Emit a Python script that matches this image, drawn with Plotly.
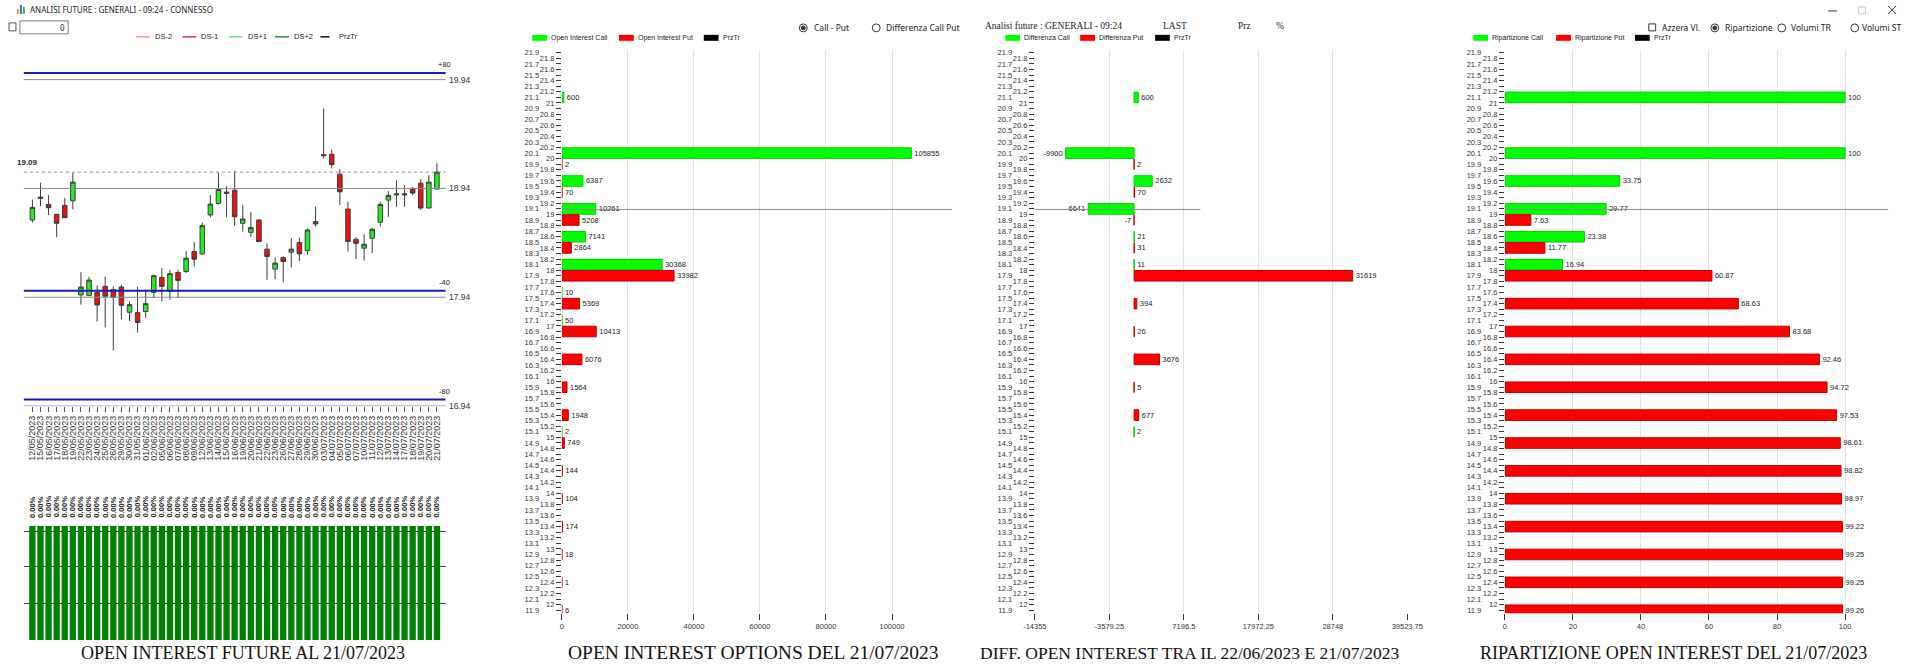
import plotly.graph_objects as go

W, H = 1920, 666
SANS = "Liberation Sans"
SERIF = "Liberation Serif"
UI = "Noto Sans"


def fx(p):
    return p / W


def fy(p):
    return 1 - p / H


# ---------------- data : future (panel 1) ----------------
dates = ["12/05/2023", "15/05/2023", "16/05/2023", "17/05/2023", "18/05/2023", "19/05/2023",
         "22/05/2023", "23/05/2023", "24/05/2023", "25/05/2023", "26/05/2023", "29/05/2023",
         "30/05/2023", "31/05/2023", "01/06/2023", "02/06/2023", "05/06/2023", "06/06/2023",
         "07/06/2023", "08/06/2023", "09/06/2023", "12/06/2023", "13/06/2023", "14/06/2023",
         "15/06/2023", "16/06/2023", "19/06/2023", "20/06/2023", "21/06/2023", "22/06/2023",
         "23/06/2023", "26/06/2023", "27/06/2023", "28/06/2023", "29/06/2023", "30/06/2023",
         "03/07/2023", "04/07/2023", "05/07/2023", "06/07/2023", "07/07/2023", "10/07/2023",
         "11/07/2023", "12/07/2023", "13/07/2023", "14/07/2023", "17/07/2023", "18/07/2023",
         "19/07/2023", "20/07/2023", "21/07/2023"]
opens = [18.650, 18.848, 18.793, 18.702, 18.784, 18.827, 17.961, 17.955, 17.985, 18.040,
         18.010, 18.034, 17.802, 17.799, 17.808, 17.985, 18.122, 17.994, 18.168, 18.177,
         18.360, 18.339, 18.696, 18.802, 18.894, 18.924, 18.620, 18.537, 18.650, 18.382,
         18.199, 18.305, 18.354, 18.443, 18.369, 18.635, 19.240, 19.254, 19.071, 18.751,
         18.473, 18.391, 18.482, 18.629, 18.833, 18.880, 18.880, 18.934, 18.988, 18.760,
         18.934]
highs = [18.839, 18.992, 18.879, 18.705, 18.854, 19.083, 18.171, 18.128, 18.049, 18.131,
         18.040, 18.055, 17.903, 18.037, 18.010, 18.147, 18.208, 18.193, 18.193, 18.366,
         18.446, 18.626, 18.879, 19.083, 18.961, 19.101, 18.787, 18.726, 18.656, 18.436,
         18.305, 18.315, 18.482, 18.488, 18.574, 18.772, 19.675, 19.297, 19.117, 18.818,
         18.491, 18.519, 18.574, 18.818, 18.915, 19.016, 18.970, 18.955, 19.025, 19.062,
         19.172]
lows = [18.626, 18.778, 18.696, 18.491, 18.671, 18.748, 17.872, 17.955, 17.717, 17.662,
        17.451, 17.735, 17.720, 17.616, 17.750, 17.933, 17.903, 17.918, 17.933, 18.162,
        18.223, 18.327, 18.674, 18.793, 18.674, 18.595, 18.543, 18.497, 18.452, 18.101,
        18.107, 18.077, 18.214, 18.275, 18.330, 18.589, 19.214, 19.123, 18.787, 18.360,
        18.290, 18.278, 18.345, 18.589, 18.680, 18.772, 18.772, 18.879, 18.741, 18.760,
        18.934]
closes = [18.766, 18.860, 18.763, 18.620, 18.671, 18.998, 18.034, 18.098, 17.869, 17.949,
          17.939, 17.866, 17.872, 17.708, 17.881, 18.138, 18.040, 18.156, 18.095, 18.299,
          18.290, 18.598, 18.796, 18.930, 18.906, 18.680, 18.659, 18.580, 18.452, 18.315,
          18.254, 18.269, 18.382, 18.339, 18.558, 18.613, 19.250, 19.159, 18.909, 18.452,
          18.436, 18.427, 18.565, 18.793, 18.876, 18.890, 18.890, 18.897, 18.760, 18.998,
          19.090]
# open interest future bars (all drawn as full bars, labelled 0.00%)
fut_bar_fill = [100, 100, 100, 100, 100, 100, 100, 100, 100, 100, 100, 100, 100, 100, 100, 100, 100,
                100, 100, 100, 100, 100, 100, 100, 100, 100, 100, 100, 100, 100, 100, 100, 100, 100,
                100, 100, 100, 100, 100, 100, 100, 100, 100, 100, 100, 100, 100, 100, 100, 100, 100]
fut_oi_pct = [0.00, 0.00, 0.00, 0.00, 0.00, 0.00, 0.00, 0.00, 0.00, 0.00, 0.00, 0.00, 0.00, 0.00,
              0.00, 0.00, 0.00, 0.00, 0.00, 0.00, 0.00, 0.00, 0.00, 0.00, 0.00, 0.00, 0.00, 0.00,
              0.00, 0.00, 0.00, 0.00, 0.00, 0.00, 0.00, 0.00, 0.00, 0.00, 0.00, 0.00, 0.00, 0.00,
              0.00, 0.00, 0.00, 0.00, 0.00, 0.00, 0.00, 0.00, 0.00]

blue_levels = [20.0, 18.0, 17.0]
blue_labels = ["+80", "-40", "-80"]
gray_levels = [19.94, 18.94, 17.94, 16.94]
last_price = 19.09

# ---------------- data : options (panels 2-4) ----------------
strikes = [21, 20, 19.5, 19, 18.5, 18, 17.5, 17, 16.5, 16, 15.5, 15, 14.5, 14, 13.5, 13, 12.5, 12]
oi_call = [600, 105855, 6387, 10261, 7141, 30368, 10, 50, 0, 0, 0, 2, 0, 0, 0, 0, 0, 0]
oi_put = [0, 2, 70, 5208, 2864, 33982, 5369, 10413, 6076, 1564, 1948, 749, 144, 104, 174, 18, 1, 6]
diff_call = [600, -9900, 2632, -6641, 21, 11, 0, 0, 0, 0, 0, 2, 0, 0, 0, 0, 0, 0]
diff_put = [0, 2, 70, -7, 31, 31619, 394, 26, 3676, 5, 677, 0, 0, 0, 0, 0, 0, 0]
rip_call = [100, 100, 33.75, 29.77, 23.38, 16.94, 0, 0, 0, 0, 0, 0, 0, 0, 0, 0, 0, 0]
rip_put = [0, 0, 0, 7.63, 11.77, 60.87, 68.63, 83.68, 92.46, 94.72, 97.53, 98.61, 98.82, 98.97,
           99.22, 99.25, 99.25, 99.26]

oi_ticks = [0, 20000, 40000, 60000, 80000, 100000]
diff_ticks = [-14355, -3579.25, 7196.5, 17972.25, 28748, 39523.75]
diff_tick_text = ["-14355", "-3579.25", "7196.5", "17972.25", "28748", "39523.75"]
rip_ticks = [0, 20, 40, 60, 80, 100]

strike_ticks = [round(11.9 + 0.1 * k, 1) for k in range(101)]
inner_text = [f"{v:g}" if k % 2 == 1 else "" for k, v in enumerate(strike_ticks)]
outer_vals = [v for k, v in enumerate(strike_ticks) if k % 2 == 0]
outer_text = [f"{v:g}" for v in outer_vals]
Y_RANGE = [11.846, 21.954]

GREEN = "#00ff00"
RED = "#ff0000"

fig = go.Figure()

# ---- panel 1: candles ----
idx = list(range(len(dates)))
fig.add_trace(go.Candlestick(
    x=idx, open=opens, high=highs, low=lows, close=closes,
    xaxis="x", yaxis="y", whiskerwidth=0,
    increasing=dict(fillcolor="#22ee22", line=dict(color="#3c3c3c", width=1)),
    decreasing=dict(fillcolor="#ee1111", line=dict(color="#3c3c3c", width=1)),
    showlegend=False, hoverinfo="skip"))

fig.add_trace(go.Bar(x=idx, y=fut_bar_fill, xaxis="x2", yaxis="y2", width=0.78,
                     marker=dict(color="#008000", line=dict(width=0)),
                     showlegend=False, hoverinfo="skip"))


def hbar(vals, offset, color, lcolor, xa, ya):
    ys = [s + offset for s, v in zip(strikes, vals) if v != 0]
    xs = [v for v in vals if v != 0]
    return go.Bar(orientation="h", x=xs, y=ys, width=0.19, xaxis=xa, yaxis=ya,
                  marker=dict(color=color, line=dict(color=lcolor, width=1)),
                  text=[f"{v:g}" for v in xs], textposition="outside",
                  textfont=dict(size=7.5, family=SANS, color="#222"),
                  constraintext="none", cliponaxis=False,
                  showlegend=False, hoverinfo="skip")


fig.add_trace(hbar(oi_call, 0.1, GREEN, "#00d000", "x3", "y3"))
fig.add_trace(hbar(oi_put, -0.1, RED, "#c00000", "x3", "y3"))
fig.add_trace(hbar(diff_call, 0.1, GREEN, "#00d000", "x5", "y5"))
fig.add_trace(hbar(diff_put, -0.1, RED, "#c00000", "x5", "y5"))
fig.add_trace(hbar(rip_call, 0.1, GREEN, "#00d000", "x7", "y7"))
fig.add_trace(hbar(rip_put, -0.1, RED, "#c00000", "x7", "y7"))

# dummy traces so the outer label axes are drawn
for xa, ya in (("x3", "y4"), ("x5", "y6"), ("x7", "y8")):
    fig.add_trace(go.Scatter(x=[0], y=[20], xaxis=xa, yaxis=ya, mode="markers",
                             marker=dict(opacity=0), showlegend=False, hoverinfo="skip"))

tickfont = dict(size=7.5, family=SANS, color="#333")


def strike_axes(x0, x1, outer_pos, xrange, xticks, xtext):
    xa = dict(domain=[fx(x0), fx(x1)], range=xrange, tickvals=xticks, ticktext=xtext,
              ticks="outside", ticklen=6, tickcolor="#333", tickfont=tickfont,
              showgrid=True, gridcolor="#e2e2e2", gridwidth=1, zeroline=False, showline=False)
    ya = dict(domain=[fy(615), fy(49)], range=Y_RANGE, tickvals=strike_ticks, ticktext=inner_text,
              ticks="outside", ticklen=5, tickcolor="#333", tickfont=tickfont,
              showgrid=False, zeroline=False, showline=False)
    ya2 = dict(range=Y_RANGE, tickvals=outer_vals, ticktext=outer_text, ticks="",
               tickfont=tickfont, showgrid=False, zeroline=False, showline=False,
               anchor="free", position=fx(outer_pos), side="left")
    return xa, ya, ya2


xa3, ya3, ya4 = strike_axes(558, 954, 535, [0, 118200], oi_ticks, [str(v) for v in oi_ticks])
xa5, ya5, ya6 = strike_axes(1038, 1416, 1015, [-14355, 39530], diff_ticks, diff_tick_text)
xa7, ya7, ya8 = strike_axes(1515, 1904, 1491, [0, 112.7], rip_ticks, [str(v) for v in rip_ticks])
ya3.update(anchor="x3"); xa3.update(anchor="y3"); ya4.update(overlaying="y3")
ya5.update(anchor="x5"); xa5.update(anchor="y5"); ya6.update(overlaying="y5")
ya7.update(anchor="x7"); xa7.update(anchor="y7"); ya8.update(overlaying="y7")

shapes = []
annotations = []


def line(x0, y0, x1, y1, color, width=1, dash="solid"):
    shapes.append(dict(type="line", xref="paper", yref="paper", x0=fx(x0), y0=fy(y0),
                       x1=fx(x1), y1=fy(y1), line=dict(color=color, width=width, dash=dash)))


def rect(x0, y0, x1, y1, fill, lc=None, lw=1):
    shapes.append(dict(type="rect", xref="paper", yref="paper", x0=fx(x0), y0=fy(y0),
                       x1=fx(x1), y1=fy(y1), fillcolor=fill,
                       line=dict(color=lc if lc else fill, width=lw if lc else 0)))


def circle(cx, cy, r, fill, lc):
    shapes.append(dict(type="circle", xref="paper", yref="paper", x0=fx(cx - r), y0=fy(cy + r),
                       x1=fx(cx + r), y1=fy(cy - r), fillcolor=fill, line=dict(color=lc, width=1)))


def txt(x, y, s, size=7.5, anchor="left", family=SANS, color="#222", yanchor="middle", **kw):
    annotations.append(dict(x=fx(x), y=fy(y), xref="paper", yref="paper", text=s, showarrow=False,
                            xanchor=anchor, yanchor=yanchor, borderpad=0,
                            font=dict(size=size, family=family, color=color), **kw))


# ---- panel 1 level lines ----
for lv in blue_levels:
    shapes.append(dict(type="line", xref="x domain", yref="y", x0=0, x1=1, y0=lv, y1=lv,
                       line=dict(color="#1b1bb5", width=2)))
for lv in gray_levels:
    shapes.append(dict(type="line", xref="x domain", yref="y", x0=0, x1=1, y0=lv, y1=lv,
                       line=dict(color="#8c8c8c", width=1)))
shapes.append(dict(type="line", xref="x domain", yref="y", x0=0, x1=1, y0=last_price, y1=last_price,
                   line=dict(color="#8c8c8c", width=1, dash="dot")))
for lv, lab in zip(blue_levels, blue_labels):
    annotations.append(dict(x=fx(439), y=lv, xref="paper", yref="y", text=lab, showarrow=False,
                            xanchor="center", yanchor="bottom", yshift=2,
                            font=dict(size=7.5, family=SANS, color="#222")))
for lv in gray_levels:
    annotations.append(dict(x=fx(441), y=lv, xref="paper", yref="y", text=f"{lv:.2f}", showarrow=False,
                            xanchor="left", yanchor="middle",
                            font=dict(size=8.5, family=SANS, color="#333")))
annotations.append(dict(x=fx(3), y=last_price, xref="paper", yref="y", text=f"<b>{last_price:.2f}</b>",
                        showarrow=False, xanchor="left", yanchor="bottom", yshift=3,
                        font=dict(size=8, family=SANS, color="#222")))

# PrzTr lines in option panels
shapes.append(dict(type="line", xref="x3 domain", yref="y3", x0=0, x1=1, y0=last_price,
                   y1=last_price, line=dict(color="#8c8c8c", width=1)))
shapes.append(dict(type="line", xref="paper", yref="y5", x0=fx(1038), x1=fx(1206), y0=last_price,
                   y1=last_price, line=dict(color="#8c8c8c", width=1)))
shapes.append(dict(type="line", xref="x7 domain", yref="y7", x0=0, x1=1, y0=last_price,
                   y1=last_price, line=dict(color="#8c8c8c", width=1)))

# 0.00% labels above future bars
for i, v in enumerate(fut_oi_pct):
    annotations.append(dict(x=i, y=100, xref="x2", yref="y2", text=f"<b>{v:.2f}%</b>", showarrow=False,
                            textangle=-90, xanchor="center", yanchor="bottom", yshift=6,
                            font=dict(size=7.5, family=SANS, color="#222")))

# ---- window chrome ----
rect(5, 8, 7, 13, "#f0a030")
rect(8, 4, 10, 13, "#3070d0")
rect(11, 6, 13, 13, "#40b040")
txt(17, 9, "ANALISI FUTURE : GENERALI - 09:24 - CONNESSO", size=8, family=UI)
rect(-3, 22, 4, 30, "white", "#555")
rect(8, 20, 57, 33, "white", "#7a7a7a")
txt(55, 27, "0", size=8, anchor="right", family=UI)
line(1843, 10, 1852, 10, "#333")
rect(1874, 6, 1881, 13, "white", "#c8c8c8")
line(1904, 5, 1912, 13, "#333")
line(1904, 13, 1912, 5, "#333")

# panel 1 legend
for lab, col, dash, x0 in (("DS-2", "#f2a07f", "solid", 126), ("DS-1", "#e0353a", "solid", 173),
                           ("DS+1", "#7ee27e", "solid", 220), ("DS+2", "#2f8a3c", "solid", 267),
                           ("PrzTr", "#111111", "dash", 313)):
    line(x0, 36, x0 + 14, 36, col, 1.5, dash)
    txt(x0 + 18, 36, lab, size=7.5)

# radio buttons / checkboxes
circle(803, 27, 4, "white", "#333")
circle(803, 27, 2, "#333", "#333")
txt(813, 27, "Call - Put", size=8.5, family=UI)
circle(877, 27, 4, "white", "#333")
txt(886, 27, "Differenza Call Put", size=8.5, family=UI)
rect(1661, 23, 1668, 30, "white", "#333")
txt(1673, 27, "Azzera Vl.", size=8.5, family=UI)
circle(1728, 27, 4, "white", "#333")
circle(1728, 27, 2, "#333", "#333")
txt(1737, 27, "Ripartizione", size=8.5, family=UI)
circle(1796, 27, 4, "white", "#333")
txt(1804, 27, "Volumi TR", size=8.5, family=UI)
circle(1870, 27, 4, "white", "#333")
txt(1876, 27, "Volumi ST", size=8.5, family=UI)

# panel 3 header
txt(986, 25, "Analisi future : GENERALI - 09:24", size=9.5, family=SERIF)
txt(1167, 25, "LAST", size=9.5, family=SERIF)
txt(1243, 25, "Prz", size=9.5, family=SERIF)
txt(1282, 25, "%", size=9.5, family=SERIF)

# option legends
for items in ((("Open Interest Call", GREEN, 528), ("Open Interest Put", RED, 616), ("PrzTr", "#000", 702)),
              (("Differenza Call", GREEN, 1008), ("Differenza Put", RED, 1084), ("PrzTr", "#000", 1160)),
              (("Ripartizione Call", GREEN, 1483), ("Ripartizione Put", RED, 1567), ("PrzTr", "#000", 1647))):
    for lab, col, x0 in items:
        rect(x0, 34, x0 + 15, 40, col)
        txt(x0 + 18, 37, lab, size=7)

# panel titles
for cx, t, sz in ((234, "OPEN INTEREST FUTURE AL 21/07/2023", 18),
                  (752, "OPEN INTEREST OPTIONS DEL 21/07/2023", 19.5),
                  (1195, "DIFF. OPEN INTEREST TRA IL 22/06/2023 E 21/07/2023", 17.5),
                  (1686, "RIPARTIZIONE OPEN INTEREST DEL 21/07/2023", 18)):
    txt(cx, 666, t, size=sz, anchor="center", family=SERIF, color="#111", yanchor="bottom")

fig.update_layout(
    width=W, height=H, margin=dict(l=0, r=0, t=0, b=0),
    paper_bgcolor="white", plot_bgcolor="white", barmode="overlay", showlegend=False,
    boxgap=0.2,
    xaxis=dict(domain=[fx(12), fx(440)], range=[-1.06, 51.07], anchor="y",
               tickvals=idx, ticktext=dates, tickangle=-90, ticks="outside", ticklen=5,
               tickcolor="#555", tickfont=dict(size=9, family=SANS, color="#333"),
               showgrid=False, zeroline=False, showline=False, rangeslider=dict(visible=False)),
    yaxis=dict(domain=[fy(407), fy(45)], range=[16.939, 20.251], anchor="x",
               showticklabels=False, showgrid=False, zeroline=False, ticks=""),
    xaxis2=dict(domain=[fx(12), fx(440)], range=[-1.06, 51.07], anchor="y2",
                showticklabels=False, showgrid=False, zeroline=False, ticks=""),
    yaxis2=dict(domain=[fy(642), fy(527)], range=[0, 100], anchor="x2",
                tickvals=[0, 32.2, 64.3, 94.8], showticklabels=False, showgrid=True,
                gridcolor="#3a3a3a", gridwidth=1, layer="above traces", zeroline=False, ticks=""),
    xaxis3=xa3, yaxis3=ya3, yaxis4=ya4,
    xaxis5=xa5, yaxis5=ya5, yaxis6=ya6,
    xaxis7=xa7, yaxis7=ya7, yaxis8=ya8,
    shapes=shapes, annotations=annotations,
)

fig.write_html("out.html", config={"displayModeBar": False, "staticPlot": True},
               post_script="document.body.style.margin='0px';"
                           "document.body.style.overflow='hidden';")
